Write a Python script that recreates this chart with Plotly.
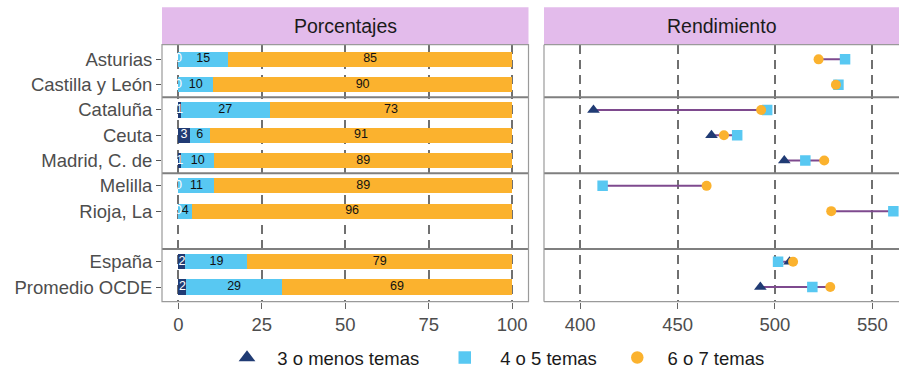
import plotly.graph_objects as go

# ---------------- data ----------------
regions = ["Asturias", "Castilla y León", "Cataluña", "Ceuta", "Madrid, C. de",
           "Melilla", "Rioja, La", "España", "Promedio OCDE"]
row_pos = [1, 2, 3, 4, 5, 6, 7, 9, 10]

series_names = ["3 o menos temas", "4 o 5 temas", "6 o 7 temas"]

# Porcentajes (%)
pct_low = [0.0, 0.0, 0.7, 3.4, 0.8, 0.0, 0.0, 2.1, 2.4]
pct_mid = [14.9, 10.4, 26.7, 6.0, 10.0, 10.8, 4.1, 18.6, 28.6]
pct_high = [85.1, 89.6, 72.6, 90.6, 89.2, 89.2, 95.9, 79.3, 69.0]

# Rendimiento (score)
perf_low = [None, None, 406.8, 467.4, 504.8, None, None, 507.5, 492.5]
perf_mid = [536.0, 532.6, 496.0, 480.6, 515.6, 411.5, 560.8, 501.6, 519.2]
perf_high = [522.4, 531.3, 492.9, 473.8, 525.3, 464.9, 528.9, 509.3, 528.4]

pct_ticks = [0, 25, 50, 75, 100]
perf_ticks = [400, 450, 500, 550]
separators = [2.5, 5.5, 8.5]

# ---------------- style ----------------
C_LOW = "#203B74"
C_MID = "#58C8F2"
C_HIGH = "#FBB22E"
C_SEG = "#7E4A8E"
FONT = "Liberation Sans"
W, H = 899, 370
NB = "\u00a0"

def px_x(p):
    return p / W

def px_y(p):
    return 1 - p / H

x1_dom = [px_x(162), px_x(528.5)]
x2_dom = [px_x(544), 1.0]
y_dom = [px_y(301.7), px_y(44.7)]

fig = go.Figure()

# stacked bars
for vals, col, name in [(pct_low, C_LOW, series_names[0]),
                        (pct_mid, C_MID, series_names[1]),
                        (pct_high, C_HIGH, series_names[2])]:
    fig.add_trace(go.Bar(x=vals, y=row_pos, orientation="h", marker=dict(color=col, line=dict(width=0)),
                         width=0.6, showlegend=False, xaxis="x", yaxis="y", name=name,
                         hoverinfo="skip"))

# bar labels (centered in each segment)
cum0 = [0.0] * len(regions)
for vals, tcol in [(pct_low, "white"), (pct_mid, "#111111"), (pct_high, "#111111")]:
    mids = [c + v / 2 for c, v in zip(cum0, vals)]
    fig.add_trace(go.Scatter(x=mids, y=row_pos, mode="text",
                             text=[str(int(round(v))) for v in vals],
                             textfont=dict(family=FONT, size=12.5, color=tcol),
                             textposition="middle center", showlegend=False,
                             xaxis="x", yaxis="y", hoverinfo="skip"))
    cum0 = [c + v for c, v in zip(cum0, vals)]

# dumbbell segments
seg_x, seg_y = [], []
for i, y in enumerate(row_pos):
    vals = [v for v in (perf_low[i], perf_mid[i], perf_high[i]) if v is not None]
    seg_x += [min(vals), max(vals), None]
    seg_y += [y, y, None]
fig.add_trace(go.Scatter(x=seg_x, y=seg_y, mode="lines", line=dict(color=C_SEG, width=2),
                         showlegend=False, xaxis="x2", yaxis="y2", hoverinfo="skip"))

# markers (draw order: square, triangle, circle)
fig.add_trace(go.Scatter(x=perf_mid, y=row_pos, mode="markers", name=series_names[1],
                         marker=dict(symbol="square", size=10.5, color=C_MID, line=dict(width=0)),
                         xaxis="x2", yaxis="y2", showlegend=False))
fig.add_trace(go.Scatter(x=perf_low, y=row_pos, mode="markers", name=series_names[0],
                         marker=dict(symbol="triangle-up", size=11, color=C_LOW, line=dict(width=0)),
                         xaxis="x2", yaxis="y2", showlegend=False))
fig.add_trace(go.Scatter(x=perf_high, y=row_pos, mode="markers", name=series_names[2],
                         marker=dict(symbol="circle", size=10, color=C_HIGH, line=dict(width=0)),
                         xaxis="x2", yaxis="y2", showlegend=False))

# legend entries (larger symbols as in the reference key)
for name, sym, size, col, lead, trail in [(series_names[0], "triangle-up", 14.5, C_LOW, 2, 4),
                                          (series_names[1], "square", 12.5, C_MID, 3, 3),
                                          (series_names[2], "circle", 12.5, C_HIGH, 2, 0)]:
    fig.add_trace(go.Scatter(x=[None], y=[None], mode="markers", name=NB * lead + name + NB * trail,
                             marker=dict(symbol=sym, size=size, color=col, line=dict(width=0)),
                             xaxis="x2", yaxis="y2", showlegend=True))

shapes = []
# panel separators
for ax in ["x", "x2"]:
    for s in separators:
        shapes.append(dict(type="line", xref=f"{ax} domain", yref="y", x0=0, x1=1, y0=s, y1=s,
                           line=dict(color="#7F7F7F", width=2), layer="above"))
# panel borders
shapes.append(dict(type="rect", xref="x domain", yref="y domain", x0=0, x1=1, y0=0, y1=1,
                   line=dict(color="#9A9A9A", width=1.2), layer="above"))
for (xa, xb, ya, yb) in [(0, 0, 0, 1), (0, 1, 0, 0), (0, 1, 1, 1)]:
    shapes.append(dict(type="line", xref="x2 domain", yref="y domain", x0=xa, x1=xb, y0=ya, y1=yb,
                       line=dict(color="#9A9A9A", width=1.2), layer="above"))
# strips
strip_top = px_y(7.3)
for dom in [x1_dom, x2_dom]:
    shapes.append(dict(type="rect", xref="paper", yref="paper", x0=dom[0], x1=dom[1],
                       y0=y_dom[1], y1=strip_top, fillcolor="#E3BBEB", line=dict(width=0),
                       layer="below"))

annotations = []
for dom, label in [(x1_dom, "Porcentajes"), (x2_dom, "Rendimiento")]:
    annotations.append(dict(text=label, xref="paper", yref="paper",
                            x=(dom[0] + dom[1]) / 2, y=(y_dom[1] + strip_top) / 2,
                            showarrow=False, xanchor="center", yanchor="middle",
                            font=dict(family=FONT, size=19.5, color="#1A1A1A")))

tickfont = dict(family=FONT, size=18.5, color="#4D4D4D")
common_x = dict(showgrid=True, gridcolor="#707070", gridwidth=2, griddash="9px,6px",
                zeroline=False, ticks="outside", ticklen=6, tickwidth=1.4, tickcolor="#666666",
                tickfont=tickfont, showline=False, ticklabelstandoff=0)

fig.update_layout(
    width=W, height=H,
    margin=dict(l=0, r=0, t=0, b=0, autoexpand=False),
    paper_bgcolor="white", plot_bgcolor="white",
    barmode="stack", bargap=0.4,
    xaxis=dict(domain=x1_dom, range=[-4.9, 104.9], tickvals=pct_ticks,
               ticktext=[str(t) for t in pct_ticks], anchor="y", **common_x),
    xaxis2=dict(domain=x2_dom, range=[381.4, 563.7], tickvals=perf_ticks,
                ticktext=[str(t) for t in perf_ticks], anchor="y2", **common_x),
    yaxis=dict(domain=y_dom, range=[10.58, 0.42], tickvals=row_pos, ticktext=regions,
               showgrid=False, zeroline=False, ticks="outside", ticklen=5, tickwidth=1.2,
               tickcolor="#555555", tickfont=tickfont, anchor="x"),
    yaxis2=dict(domain=y_dom, range=[10.58, 0.42], showgrid=False, zeroline=False,
                showticklabels=False, ticks="", anchor="x2", matches="y"),
    shapes=shapes, annotations=annotations,
    showlegend=True,
    legend=dict(orientation="h", x=px_x(227), xanchor="left", y=px_y(358), yanchor="middle",
                font=dict(family=FONT, size=18.5, color="#1A1A1A"),
                bgcolor="rgba(0,0,0,0)", traceorder="normal"),
)

fig.write_html("out.html")
